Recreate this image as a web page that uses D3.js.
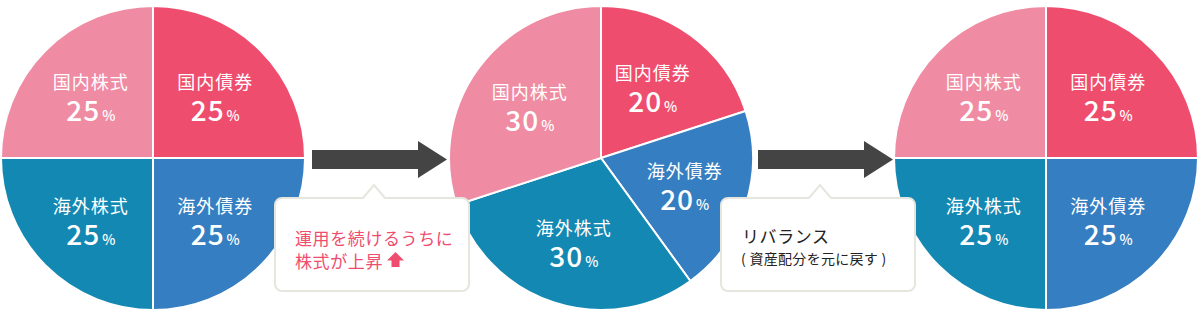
<!DOCTYPE html>
<html>
<head>
<meta charset="utf-8">
<script src="https://cdn.jsdelivr.net/npm/d3@7"></script>
<style>
	body { margin: 0; background: #fff; }
	svg { display: block; font-family: "Noto Sans CJK JP", "Noto Sans", sans-serif; }
</style>
</head>
<body>
<div class="chart"></div>
<script>
// asset allocation - rebalancing
const categories = ['国内債券', '海外債券', '海外株式', '国内株式']
const initial = [25, 25, 25, 25]
const drifted = [20, 20, 30, 30]
const rebalanced = [25, 25, 25, 25]
const colors = ['#ef4d6e', '#357ec1', '#1388b3', '#ef8ca3']
const note1 = ['運用を続けるうちに', '株式が上昇']
const note2 = ['リバランス', '( 資産配分を元に戻す )']

const width = 1200
const height = 320
const r = 152

const svg = d3.select('.chart')
	.append('svg')
	.attr('width', width)
	.attr('height', height)

const colorScale = d3.scaleOrdinal()
	.domain(categories)
	.range(colors)

const pie = d3.pie().sort(null)
const arc = d3.arc().innerRadius(0).outerRadius(r)
const labelArc = d3.arc().innerRadius(88).outerRadius(88)

const pies = [
	{ values: initial, cx: 153 },
	{ values: drifted, cx: 601 },
	{ values: rebalanced, cx: 1046 }
]

pies.forEach(p => {
	const g = svg.append('g')
		.attr('transform', `translate(${p.cx}, 158)`)
	const arcs = pie(p.values).map((a, i) => ({ ...a, name: categories[i] }))

	g.selectAll('path')
		.data(arcs)
		.enter()
		.append('path')
		.attr('d', arc)
		.attr('fill', d => colorScale(d.name))
		.attr('stroke', '#fff')
		.attr('stroke-width', 2)

	const labels = g.selectAll('g.label')
		.data(arcs)
		.enter()
		.append('g')
		.attr('class', 'label')
		.attr('transform', d => `translate(${labelArc.centroid(d)})`)
		.attr('fill', '#fff')
		.attr('text-anchor', 'middle')

	labels.append('text')
		.attr('y', -15)
		.attr('dominant-baseline', 'central')
		.attr('font-size', '18px')
		.attr('letter-spacing', '1px')
		.text(d => d.name)

	const num = labels.append('text')
		.attr('y', 25)
		.attr('font-weight', 500)
		
	num.append('tspan')
		.attr('font-size', '28px')
		.attr('letter-spacing', '1px')
		.text(d => d.data)
	num.append('tspan')
		.attr('dx', 2)
		.attr('font-size', '14px')
		.text('%')
})

// arrows
function drawArrow(x0) {
	const p = d3.path()
	p.moveTo(x0, 150)
	p.lineTo(x0 + 106, 150)
	p.lineTo(x0 + 106, 141)
	p.lineTo(x0 + 135, 159.5)
	p.lineTo(x0 + 106, 178)
	p.lineTo(x0 + 106, 169)
	p.lineTo(x0, 169)
	p.closePath()
	svg.append('path')
		.attr('d', p.toString())
		.attr('fill', '#444')
}
drawArrow(312)
drawArrow(758)

// callout boxes
function callout(x, w, px) {
	const y = 198, h = 93, rr = 7
	const p = d3.path()
	p.moveTo(x + rr, y)
	p.lineTo(px - 11, y)
	p.lineTo(px, y - 13)
	p.lineTo(px + 11, y)
	p.lineTo(x + w - rr, y)
	p.arcTo(x + w, y, x + w, y + rr, rr)
	p.lineTo(x + w, y + h - rr)
	p.arcTo(x + w, y + h, x + w - rr, y + h, rr)
	p.lineTo(x + rr, y + h)
	p.arcTo(x, y + h, x, y + h - rr, rr)
	p.lineTo(x, y + rr)
	p.arcTo(x, y, x + rr, y, rr)
	p.closePath()
	svg.append('path')
		.attr('d', p.toString())
		.attr('fill', '#fff')
		.attr('stroke', '#e6e5de')
		.attr('stroke-width', 2)
}
callout(275, 194, 374)
callout(721, 194, 820)

// note 1 text
svg.append('g').selectAll('text')
	.data(note1)
	.enter()
	.append('text')
	.attr('x', 295)
	.attr('y', (d, i) => 237 + i * 23)
	.attr('dominant-baseline', 'central')
	.attr('font-size', '17px')
	.attr('letter-spacing', '0.6px')
	.attr('fill', '#ef4d6e')
	.text(d => d)

// up arrow icon
svg.append('path')
	.attr('d', 'M395.5,252 L404,260.5 L399.5,260.5 L399.5,267 L391.5,267 L391.5,260.5 L387,260.5 Z')
	.attr('fill', '#ef4d6e')

// note 2 text
svg.append('text')
	.attr('x', 742)
	.attr('y', 235)
	.attr('dominant-baseline', 'central')
	.attr('font-size', '17px')
	.attr('letter-spacing', '0.6px')
	.attr('fill', '#222')
	.text(note2[0])

svg.append('text')
	.attr('x', 741)
	.attr('y', 258)
	.attr('dominant-baseline', 'central')
	.attr('font-size', '14px')
	.attr('letter-spacing', '0.3px')
	.attr('fill', '#222')
	.text(note2[1])
</script>
</body>
</html>
